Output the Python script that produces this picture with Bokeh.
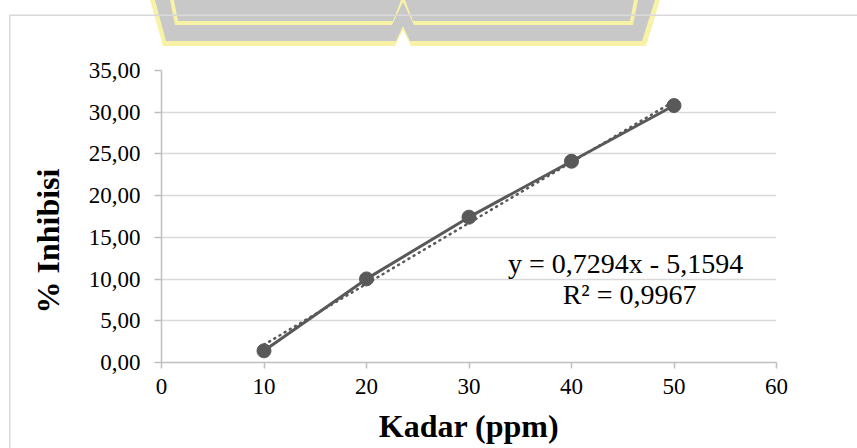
from urllib.parse import quote
from bokeh.plotting import figure
from bokeh.models import (Range1d, FixedTicker, CustomJSTickFormatter, Label, Title)
from bokeh.embed import file_html
from bokeh.resources import INLINE

# ---- data ----
kadar = [10, 20, 30, 40, 50]
inhibisi = [1.40, 10.02, 17.42, 24.12, 30.80]
slope = 0.7294
intercept = -5.1594
r_squared = 0.9967
x_ticks = [0, 10, 20, 30, 40, 50, 60]
y_ticks = [0, 5, 10, 15, 20, 25, 30, 35]
x_title = "Kadar (ppm)"
y_title = "% Inhibisi"

FONT = "Liberation Serif"
DARK = "#595959"
W, H = 857, 448

p = figure(width=W, height=H,
           x_range=Range1d(0, 60), y_range=Range1d(0, 35),
           output_backend="svg", toolbar_location=None,
           min_border_left=161, min_border_right=81,
           min_border_top=70, min_border_bottom=86)
p.outline_line_color = None
p.background_fill_color = "white"
p.border_fill_color = None

# page decoration behind the chart (document watermark + chart-area border)
deco = (
    "<svg xmlns='http://www.w3.org/2000/svg' width='%d' height='%d'>"
    "<rect width='100%%' height='100%%' fill='white'/>"
    "<polygon points='150,0 163,46 395,46 403,30 411,46 646,46 660,0' fill='#f7f2a6'/>"
    "<polygon points='155,0 166,41 396,41 403,26 410,41 642,41 655,0' fill='#c8c8c8'/>"
    "<polygon points='170,0 175,25 392,25 403,2 414,25 633,25 638,0' fill='#f7f2a6'/>"
    "<polygon points='174,0 178,21 393,21 401,0' fill='#c8c8c8'/>"
    "<polygon points='405,0 413,21 630,21 634,0' fill='#c8c8c8'/>"
    "<path d='M9.75,%d V15.25 H%d' fill='none' stroke='#d9d9d9' stroke-width='1.5'/>"
    "</svg>" % (W, H, H, W)
)
p.styles = {
    "background-image": 'url("data:image/svg+xml;utf8,%s")' % quote(deco),
    "background-repeat": "no-repeat",
}

# axes
for ax in (p.xaxis[0], p.yaxis[0]):
    ax.axis_line_color = "#bfbfbf"
    ax.axis_line_width = 1.5
    ax.major_tick_line_color = "#bfbfbf"
    ax.major_tick_line_width = 1.5
    ax.major_tick_in = 0
    ax.minor_tick_line_color = None
    ax.major_label_text_font = FONT
    ax.major_label_text_font_size = "23px"
    ax.major_label_text_color = "#000000"
    ax.axis_label_text_font = FONT
    ax.axis_label_text_font_style = "bold"
    ax.axis_label_text_font_size = "32px"
    ax.axis_label_text_color = "#000000"

p.xaxis.ticker = FixedTicker(ticks=x_ticks)
p.yaxis.ticker = FixedTicker(ticks=y_ticks)
p.yaxis.formatter = CustomJSTickFormatter(code="return tick.toFixed(2).replace('.', ',');")
p.xaxis.major_tick_out = 6
p.yaxis.major_tick_out = 7
p.xaxis.major_label_standoff = 10
p.yaxis.major_label_standoff = 14
p.xaxis.axis_label = x_title
p.xaxis.axis_label_standoff = 11

# y title as a side title so it can sit a little below the frame centre
p.add_layout(Title(text=y_title, align="left", offset=49, standoff=40,
                   text_font=FONT, text_font_style="bold", text_font_size="32px",
                   text_color="#000000"), "left")

p.xgrid.grid_line_color = None
p.ygrid.grid_line_color = "#d9d9d9"
p.ygrid.grid_line_width = 1.5

# ---- trendline (linear fit from the chart's equation) ----
tx = [kadar[0], kadar[-1]]
ty = [slope * v + intercept for v in tx]
p.line(tx, ty, line_color=DARK, line_width=2.5, line_dash="1 5", line_cap="round")

# ---- series ----
p.line(kadar, inhibisi, line_color=DARK, line_width=3)
p.scatter(kadar, inhibisi, size=14, fill_color=DARK, line_color=DARK)

eq_text = ("y = %.4fx - %.4f" % (slope, abs(intercept))).replace(".", ",")
r2_text = ("R\u00b2 = %.4f" % r_squared).replace(".", ",")
p.add_layout(Label(x=45.28, y=11.81, text=eq_text, text_align="center",
                   text_baseline="middle", text_font=FONT,
                   text_font_size="28px", text_color="#000000"))
p.add_layout(Label(x=45.67, y=8.15, text=r2_text, text_align="center",
                   text_baseline="middle", text_font=FONT,
                   text_font_size="28px", text_color="#000000"))

open("out.html", "w").write(file_html(p, INLINE))
